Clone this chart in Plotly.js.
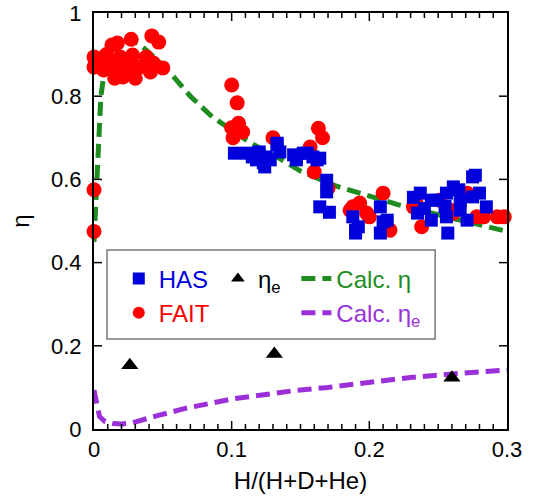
<!DOCTYPE html>
<html><head><meta charset="utf-8">
<script src="https://cdn.plot.ly/plotly-3.0.1.min.js"></script>
<style>html,body{margin:0;padding:0;background:#fff;}#chart{width:533px;height:503px;}</style>
</head><body><div id="chart"></div>
<script>
// Calculated curves
const calcEtaX = [0, 0.001, 0.002, 0.003, 0.005, 0.008, 0.012, 0.018, 0.025, 0.032, 0.045, 0.057, 0.07, 0.086, 0.1, 0.115, 0.135, 0.15, 0.175, 0.2, 0.22, 0.25, 0.28, 0.3];
const calcEtaY = [0.45, 0.53, 0.62, 0.70, 0.80, 0.87, 0.91, 0.93, 0.935, 0.928, 0.89, 0.85, 0.80, 0.75, 0.72, 0.685, 0.65, 0.62, 0.585, 0.56, 0.54, 0.515, 0.49, 0.475];
const calcEtaEX = [0, 0.002, 0.004, 0.008, 0.014, 0.02, 0.028, 0.046, 0.067, 0.1, 0.123, 0.145, 0.17, 0.193, 0.23, 0.266, 0.3];
const calcEtaEY = [0.094, 0.055, 0.03, 0.018, 0.013, 0.012, 0.015, 0.032, 0.05, 0.072, 0.083, 0.092, 0.1, 0.11, 0.124, 0.134, 0.142];

// FAIT measurements
const faitX = [0, 0, 0, 0, 0.002, 0.004, 0.007, 0.009, 0.012, 0.013, 0.015, 0.017, 0.017, 0.019, 0.021, 0.024, 0.024, 0.027, 0.028, 0.03, 0.033, 0.038, 0.041, 0.042, 0.043, 0.047, 0.05,
  0.1, 0.104, 0.105, 0.1, 0.101, 0.108, 0.13, 0.163, 0.166, 0.157, 0.16, 0.17,
  0.188, 0.186, 0.193, 0.198, 0.2, 0.21, 0.215, 0.232, 0.234, 0.238, 0.251, 0.259, 0.261, 0.271, 0.278, 0.283, 0.293, 0.298];
const faitY = [0.575, 0.475, 0.894, 0.87, 0.88, 0.89, 0.863, 0.90, 0.875, 0.923, 0.843, 0.928, 0.87, 0.894, 0.846, 0.88, 0.858, 0.937, 0.899, 0.843, 0.87, 0.894, 0.858, 0.945, 0.88, 0.93, 0.868,
  0.827, 0.784, 0.735, 0.724, 0.70, 0.714, 0.70, 0.723, 0.70, 0.678, 0.618, 0.579,
  0.534, 0.526, 0.543, 0.519, 0.51, 0.567, 0.478, 0.534, 0.543, 0.486, 0.55, 0.526, 0.519, 0.567, 0.51, 0.51, 0.51, 0.51];

// HAS measurements
const hasX = [0.102, 0.111, 0.115, 0.118, 0.12, 0.123, 0.124, 0.125, 0.128, 0.133, 0.133, 0.135, 0.145, 0.147, 0.147, 0.152, 0.155, 0.159, 0.162, 0.164,
  0.169, 0.169, 0.164, 0.171, 0.188, 0.19, 0.192, 0.19, 0.208, 0.21, 0.208, 0.213,
  0.232, 0.235, 0.237, 0.24, 0.245, 0.245, 0.249, 0.255, 0.256, 0.256, 0.257, 0.261, 0.265, 0.266, 0.266, 0.271, 0.275, 0.275, 0.277, 0.28, 0.285];
const hasY = [0.663, 0.663, 0.654, 0.647, 0.666, 0.64, 0.63, 0.654, 0.647, 0.683, 0.687, 0.666, 0.659, 0.647, 0.654, 0.663, 0.663, 0.654, 0.647, 0.651,
  0.598, 0.57, 0.534, 0.521, 0.51, 0.478, 0.486, 0.471, 0.534, 0.498, 0.471, 0.502,
  0.557, 0.519, 0.567, 0.53, 0.502, 0.55, 0.55, 0.535, 0.567, 0.51, 0.471, 0.582, 0.575, 0.526, 0.55, 0.502, 0.606, 0.558, 0.61, 0.567, 0.534];

// eta_e measurements
const etaEX = [0.026, 0.131, 0.26];
const etaEY = [0.153, 0.18, 0.123];

// tick positions (axis values)
const xMajorTicks = [0.1, 0.2];
const xMinorTicks = [0.01, 0.02, 0.03, 0.04, 0.05, 0.06, 0.07, 0.08, 0.09, 0.11, 0.12, 0.13, 0.14, 0.15, 0.16, 0.17, 0.18, 0.19,
  0.21, 0.22, 0.23, 0.24, 0.25, 0.26, 0.27, 0.28, 0.29];
const yMajorTicks = [0.2, 0.4, 0.6, 0.8];

const FONT = 'Arial, "Liberation Sans", "Noto Sans CJK JP", sans-serif';

const traces = [
  {x: calcEtaX, y: calcEtaY, mode: 'lines', name: '<span style="color:#1e8c1e">Calc. η</span>',
   line: {color: '#1e8c1e', width: 5, dash: '14px,7px'}, legend: 'legend3', legendgroup: 'g3', legendrank: 1},
  {x: calcEtaEX, y: calcEtaEY, mode: 'lines', name: '<span style="color:#9b30d9">Calc. η<sub>e</sub></span>',
   line: {color: '#9b30d9', width: 5, dash: '14px,7px'}, legend: 'legend3', legendgroup: 'g4', legendrank: 2},
  {x: faitX, y: faitY, mode: 'markers', name: '<span style="color:#ff0000">FAIT</span>',
   marker: {symbol: 'circle', size: 15, color: '#ff0000'}, legend: 'legend', legendgroup: 'g2', legendrank: 2, cliponaxis: false},
  {x: hasX, y: hasY, mode: 'markers', name: '<span style="color:#0000dd">HAS</span>',
   marker: {symbol: 'square', size: 13, color: '#0000dd'}, legend: 'legend', legendgroup: 'g1', legendrank: 1},
  {x: etaEX, y: etaEY, mode: 'markers', name: 'η<sub>e</sub>',
   marker: {symbol: 'triangle-up', size: 15, color: '#000000'}, legend: 'legend2', legendgroup: 'g5'}
];

const legBase = {orientation: 'v', bgcolor: 'rgba(0,0,0,0)', borderwidth: 0, xanchor: 'left', yanchor: 'top',
  font: {family: FONT, size: 24, color: 'black'}, tracegroupgap: 0, traceorder: 'grouped', itemwidth: 30, itemsizing: 'constant'};

// plot area size in px (for tick lengths expressed in paper units)
const PW = 533 - 94 - 26, PH = 503 - 13 - 74;
const tickStyle = {color: 'black', width: 1.5};
const tickShapes = [];
function xTick(v, len) {
  const f = len / PH;
  tickShapes.push({type: 'line', xref: 'x', yref: 'paper', x0: v, x1: v, y0: 0, y1: f, line: tickStyle, layer: 'above'});
  tickShapes.push({type: 'line', xref: 'x', yref: 'paper', x0: v, x1: v, y0: 1, y1: 1 - f, line: tickStyle, layer: 'above'});
}
function yTick(v, len) {
  const f = len / PW;
  tickShapes.push({type: 'line', xref: 'paper', yref: 'y', x0: 0, x1: f, y0: v, y1: v, line: tickStyle, layer: 'above'});
  tickShapes.push({type: 'line', xref: 'paper', yref: 'y', x0: 1, x1: 1 - f, y0: v, y1: v, line: tickStyle, layer: 'above'});
}
xMajorTicks.forEach(v => xTick(v, 8));
xMinorTicks.forEach(v => xTick(v, 5));
yMajorTicks.forEach(v => yTick(v, 8));

const clear = 'rgba(255,255,255,0)';
const layout = {
  width: 533, height: 503,
  margin: {l: 94, r: 26, t: 13, b: 74},
  showlegend: true,
  legend: Object.assign({}, legBase, {x: 0.06, y: 0.415}),
  legend2: Object.assign({}, legBase, {x: 0.30, y: 0.415}),
  legend3: Object.assign({}, legBase, {x: 0.49, y: 0.415}),
  xaxis: {range: [0, 0.3], dtick: 0.1, ticks: '', showline: true, linecolor: 'black', linewidth: 2, mirror: true,
    gridcolor: clear, zerolinecolor: 'black', zerolinewidth: 2,
    tickfont: {family: FONT, size: 22, color: 'black'},
    title: {text: 'H/(H+D+He)', font: {family: FONT, size: 24, color: 'black'}, standoff: 11}},
  yaxis: {range: [0, 1], dtick: 0.2, ticks: '', showline: true, linecolor: 'black', linewidth: 2, mirror: true,
    gridcolor: clear, zerolinecolor: 'black', zerolinewidth: 2,
    tickfont: {family: FONT, size: 22, color: 'black'}, ticksuffix: '\u00a0',
    title: {text: 'η', font: {family: FONT, size: 24, color: 'black'}, standoff: 14}},
  shapes: [{type: 'rect', xref: 'paper', yref: 'paper', x0: 0.0315, x1: 0.826, y0: 0.2163, y1: 0.4303,
    line: {color: '#777', width: 1.5}, fillcolor: clear, layer: 'above'}].concat(tickShapes)
};

Plotly.newPlot('chart', traces, layout, {displayModeBar: false, staticPlot: true});
</script>
</body></html>
